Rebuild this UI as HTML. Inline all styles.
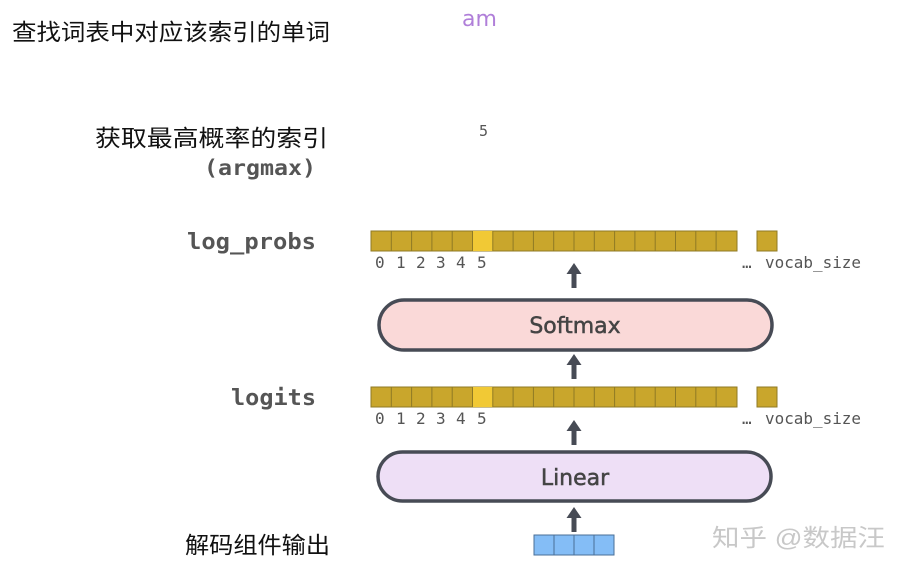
<!DOCTYPE html>
<html><head><meta charset="utf-8"><style>
html,body{margin:0;padding:0;background:#fff;width:907px;height:574px;overflow:hidden}
svg{display:block}
.cjk{font-family:"Liberation Sans","Noto Sans CJK SC",sans-serif;fill:#111;font-size:23px}
.mono{font-family:"DejaVu Sans Mono","Liberation Mono",monospace;fill:#555}
.sans{font-family:"DejaVu Sans","Liberation Sans",sans-serif;fill:#444}
</style></head><body>
<svg width="907" height="574" viewBox="0 0 907 574" xmlns="http://www.w3.org/2000/svg">
<defs>
<g id="row">
<rect x="371" y="0" width="366" height="20" fill="#c9a62c" stroke="#8f7a25" stroke-width="1"/>
<rect x="472.5" y="0" width="20.3" height="20" fill="#f1c935"/>
<g stroke="#8f7a25" stroke-width="1">
<line x1="391.3" y1="0" x2="391.3" y2="20"/><line x1="411.6" y1="0" x2="411.6" y2="20"/><line x1="431.9" y1="0" x2="431.9" y2="20"/><line x1="452.2" y1="0" x2="452.2" y2="20"/><line x1="472.5" y1="0" x2="472.5" y2="20"/><line x1="492.8" y1="0" x2="492.8" y2="20"/><line x1="513.1" y1="0" x2="513.1" y2="20"/><line x1="533.4" y1="0" x2="533.4" y2="20"/><line x1="553.7" y1="0" x2="553.7" y2="20"/><line x1="574" y1="0" x2="574" y2="20"/><line x1="594.3" y1="0" x2="594.3" y2="20"/><line x1="614.6" y1="0" x2="614.6" y2="20"/><line x1="634.9" y1="0" x2="634.9" y2="20"/><line x1="655.2" y1="0" x2="655.2" y2="20"/><line x1="675.5" y1="0" x2="675.5" y2="20"/><line x1="695.8" y1="0" x2="695.8" y2="20"/><line x1="716.1" y1="0" x2="716.1" y2="20"/>
</g>
<rect x="757" y="0" width="20" height="20" fill="#c9a62c" stroke="#8f7a25" stroke-width="1"/>
<text class="mono" y="37" font-size="16"><tspan x="375">0</tspan><tspan x="396">1</tspan><tspan x="416">2</tspan><tspan x="436">3</tspan><tspan x="456">4</tspan><tspan x="477">5</tspan><tspan x="742">…</tspan></text>
<text class="mono" x="765" y="37" font-size="16" textLength="96" lengthAdjust="spacingAndGlyphs">vocab_size</text>
</g>
<g id="arr"><rect x="-2.5" y="9" width="5" height="16" fill="#474b55"/><polygon points="-7.5,11 0,0 7.5,11" fill="#474b55"/></g>
</defs>

<text class="cjk" x="12" y="40" textLength="318" lengthAdjust="spacingAndGlyphs">查找词表中对应该索引的单词</text>
<text x="462" y="26" font-family="DejaVu Sans,Liberation Sans,sans-serif" font-size="22" fill="#b07fd9">am</text>

<text class="cjk" x="95" y="146" textLength="233" lengthAdjust="spacingAndGlyphs">获取最高概率的索引</text>
<text class="mono" x="204" y="175" font-size="21" font-weight="bold" textLength="112" lengthAdjust="spacingAndGlyphs">(argmax)</text>
<text class="mono" x="479" y="136" font-size="15">5</text>

<text class="mono" x="187" y="249" font-size="22" font-weight="bold" textLength="129" lengthAdjust="spacingAndGlyphs">log_probs</text>
<use href="#row" transform="translate(0,231)"/>
<use href="#arr" transform="translate(574,263)"/>

<rect x="379" y="300" width="393" height="50" rx="25" fill="#fad9d8" stroke="#474b55" stroke-width="3.5"/>
<text class="sans" x="575" y="333" font-size="22" text-anchor="middle" stroke="#444" stroke-width="0.5">Softmax</text>
<use href="#arr" transform="translate(574,354)"/>

<text class="mono" x="231" y="405" font-size="22" font-weight="bold" textLength="85" lengthAdjust="spacingAndGlyphs">logits</text>
<use href="#row" transform="translate(0,387)"/>
<use href="#arr" transform="translate(574,420)"/>

<rect x="378" y="452" width="393" height="49" rx="24.5" fill="#eedff6" stroke="#474b55" stroke-width="3.5"/>
<text class="sans" x="575" y="485" font-size="22" text-anchor="middle" stroke="#444" stroke-width="0.5">Linear</text>
<use href="#arr" transform="translate(574,507)"/>

<rect x="534" y="535" width="80" height="20" fill="#84bdf6" stroke="#4a6f97" stroke-width="1"/>
<g stroke="#4a6f97"><line x1="554" y1="535" x2="554" y2="555"/><line x1="574" y1="535" x2="574" y2="555"/><line x1="594" y1="535" x2="594" y2="555"/></g>

<text class="cjk" x="185" y="553" textLength="145" lengthAdjust="spacingAndGlyphs">解码组件输出</text>
<text x="712" y="546" font-family="Liberation Sans,Noto Sans CJK SC,sans-serif" font-size="24" fill="#c8c8c8" textLength="173" lengthAdjust="spacingAndGlyphs">知乎 @数据汪</text>
</svg>
</body></html>
